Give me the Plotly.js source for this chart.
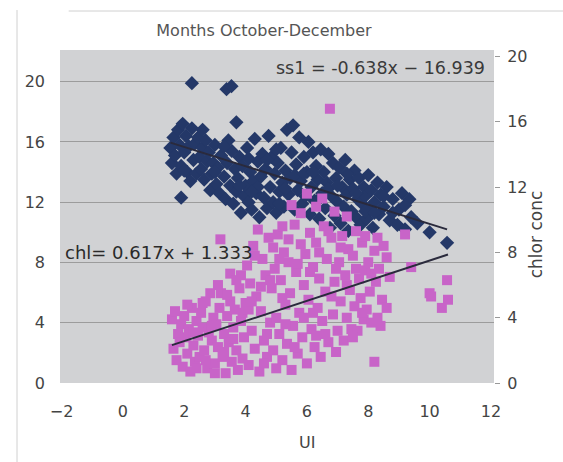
<!DOCTYPE html>
<html>
<head>
<meta charset="utf-8">
<script src="https://cdn.plot.ly/plotly-3.0.1.min.js"></script>
<style>html,body{margin:0;padding:0;background:#fff;}#chart{width:563px;height:462px;}</style>
</head>
<body>
<div id="chart"></div>
<script>
// ss1 series (left axis)
const ssX = [1.55,1.6,1.65,1.7,1.75,1.8,1.85,1.9,1.95,2.0,2.05,2.1,2.15,2.2,2.25,2.3,2.35,2.4,2.45,2.5,1.9,2.85,2.25,3.38,3.54,3.7,3.44,
  2.55,2.6,2.65,2.7,2.75,2.8,2.9,2.95,3.0,3.05,3.1,3.15,3.2,3.3,3.35,3.4,3.5,3.55,
  3.6,3.65,3.7,3.75,3.8,3.85,3.9,3.95,4.0,4.05,4.1,4.15,4.2,4.25,4.3,4.35,4.4,4.45,4.5,
  4.55,4.6,4.65,4.7,4.75,4.8,4.85,4.9,4.95,5.0,5.05,5.1,5.15,5.2,5.25,5.3,5.35,5.4,5.45,5.5,
  5.55,5.6,5.65,5.7,5.75,5.8,5.85,5.9,5.95,6.0,6.05,6.1,6.15,6.2,6.25,6.3,6.35,6.4,6.45,6.5,
  6.55,6.6,6.65,6.7,6.75,6.8,6.85,6.9,6.95,7.0,7.05,7.1,7.15,7.2,7.25,7.3,7.35,7.4,7.45,
  7.5,7.55,7.6,7.65,7.7,7.75,7.8,7.85,7.9,7.95,8.0,8.05,8.1,8.15,8.2,8.3,8.35,8.4,
  8.5,8.6,8.7,8.8,8.95,9.0,9.1,9.34,9.4,9.6,10.0,10.57,9.2,
  2.0,2.6,3.0,3.3,3.8,4.1,4.4,4.7,5.0,5.3,5.6,5.9,6.2,6.4,6.7,7.0,7.3,7.6,7.9,8.2,8.5,8.8,9.2,4.2,5.1];
const ssY = [15.6,14.6,16.3,15.1,13.9,16.8,15.8,14.4,17.2,15.3,16.4,14.0,15.7,13.4,19.9,14.8,15.9,13.9,16.3,15.0,12.3,12.8,16.9,19.5,19.7,17.3,16.1,
  14.2,15.6,13.5,16.1,14.7,15.3,13.9,14.6,15.8,13.2,14.3,12.6,15.1,13.7,12.2,14.6,13.1,15.4,
  11.9,14.2,12.7,13.6,15.0,11.3,14.4,12.4,13.1,15.6,12.0,14.0,11.5,13.4,16.2,12.6,14.7,11.0,13.7,
  15.2,12.3,14.2,11.6,16.4,13.0,15.0,12.0,13.9,11.3,14.6,12.7,15.6,13.3,11.7,14.1,16.8,12.5,13.6,15.3,
  17.1,11.5,14.5,12.8,16.3,13.4,11.9,15.0,12.4,14.0,16.0,11.2,13.0,15.3,12.1,14.4,13.5,10.9,15.5,12.6,
  14.0,11.6,13.3,15.2,10.3,12.4,14.6,11.1,13.6,12.0,14.3,10.6,13.0,11.7,14.8,12.5,10.1,13.5,11.4,
  12.9,14.1,11.0,12.2,13.6,10.5,11.9,13.0,12.4,10.9,13.8,11.5,12.8,10.3,12.0,13.3,11.2,12.5,
  11.7,13.0,10.8,12.2,10.5,11.5,12.6,12.2,11.0,10.6,10.0,9.3,10.2,
  14.1,16.8,14.0,15.7,13.1,14.9,13.0,14.8,15.5,12.9,13.8,13.9,14.0,12.2,12.9,13.1,13.9,12.6,11.4,11.3,12.4,11.3,11.8,12.7,11.9];

// chl series (right axis)
const chlX = [1.6,1.65,1.7,1.75,1.8,1.85,1.9,1.95,2.0,2.05,2.1,2.15,2.2,2.25,2.3,2.35,2.4,2.45,2.5,2.55,2.6,2.65,2.7,2.75,2.8,2.85,2.9,2.95,3.0,3.0,
  3.05,3.1,3.15,3.18,3.2,3.25,3.3,3.35,3.4,3.45,3.5,3.5,3.55,3.6,3.65,3.7,3.75,3.8,3.85,3.9,3.95,4.0,
  4.05,4.1,4.15,4.2,4.25,4.3,4.35,4.4,4.45,4.5,4.55,4.6,4.65,4.7,4.75,4.8,4.85,4.9,4.95,5.0,5.0,
  5.05,5.1,5.15,5.2,5.25,5.3,5.35,5.4,5.45,5.5,5.5,5.55,5.6,5.65,5.7,5.75,5.8,5.8,5.85,5.9,5.95,6.0,6.0,
  6.05,6.1,6.15,6.2,6.25,6.3,6.3,6.35,6.4,6.45,6.5,6.5,6.55,6.6,6.65,6.7,6.75,6.8,6.85,6.9,6.9,6.95,7.0,
  7.05,7.1,7.15,7.2,7.25,7.3,7.3,7.35,7.4,7.45,7.5,7.55,7.6,7.65,7.7,7.75,7.8,7.85,7.9,7.95,
  8.0,8.05,8.1,8.2,8.2,8.25,8.3,8.35,8.45,8.5,8.6,8.7,
  9.2,9.4,10.0,10.05,10.4,10.57,10.6,
  2.1,2.4,2.6,2.9,2.7,2.3,3.1,3.4,3.7,3.3,3.9,3.6,3.85,
  4.1,4.3,4.5,4.6,4.7,4.9,4.2,4.8,5.1,5.2,5.3,5.4,5.6,5.7,5.9,5.2,
  6.1,6.2,6.4,6.6,6.7,6.8,6.95,6.3,7.1,7.3,7.5,7.6,7.8,7.9,8.1,8.4,8.6,8.3];
const chlY = [3.9,2.1,4.4,1.4,3.0,2.5,3.6,1.0,4.1,2.8,1.8,3.3,0.7,4.6,2.3,1.3,3.8,2.9,1.6,4.3,3.4,2.0,5.0,0.9,3.1,5.5,2.6,4.0,1.2,0.6,
  3.6,2.2,4.6,8.8,5.5,1.6,3.0,0.6,4.1,2.5,6.7,5.0,1.3,3.4,4.5,2.0,0.8,5.8,3.8,1.5,2.8,4.9,
  7.2,1.1,6.1,3.2,8.4,2.1,5.3,9.4,0.7,4.4,7.6,2.6,6.6,1.6,8.9,3.7,5.8,2.0,7.0,4.0,0.9,
  9.1,3.0,6.3,1.4,8.0,4.8,2.4,7.4,5.5,0.8,10.9,3.5,9.7,6.8,1.8,4.3,8.5,10.4,2.8,6.0,7.9,1.2,11.6,
  5.1,9.2,3.3,7.1,2.2,10.8,8.6,4.6,6.4,1.6,11.3,3.8,9.6,5.6,7.6,2.5,16.8,8.9,4.2,10.5,6.2,1.9,3.2,
  7.4,5.0,9.0,2.6,6.6,10.2,4.0,8.2,5.7,3.3,7.8,4.7,9.3,3.2,6.4,5.2,8.6,3.9,6.9,4.5,
  7.4,5.6,3.7,8.1,1.3,6.2,4.0,7.0,5.1,8.4,4.6,6.5,
  9.1,7.1,5.5,5.3,4.6,6.3,5.1,
  4.8,0.9,4.9,3.5,1.4,3.1,6.0,5.4,6.3,1.9,4.3,2.7,6.6,
  4.5,7.8,5.9,1.2,3.0,8.3,5.0,6.3,7.6,5.2,3.6,8.8,2.2,7.3,4.0,9.6,
  6.8,4.3,8.0,3.0,9.3,5.3,7.0,2.9,8.3,6.0,2.8,7.0,4.3,9.0,6.7,3.5,7.7,8.9];

// trendline coefficients [slope, intercept]
const ssFit = [-0.638, 16.939];
const chlFit = [0.617, 1.333];
const xTicks = [-2, 0, 2, 4, 6, 8, 10, 12];
const yTicks = [0, 4, 8, 12, 16, 20];

const ssLineX = [Math.min(...ssX), Math.max(...ssX)];
const chlLineX = [Math.min(...chlX), Math.max(...chlX)];

const font = 'DejaVu Sans, Arial, sans-serif';
const traces = [
  {x: ssX, y: ssY, type: 'scatter', mode: 'markers', name: 'ss1',
   marker: {symbol: 'diamond', size: 11, color: '#243868', line: {width: 0}}},
  {x: chlX, y: chlY, type: 'scatter', mode: 'markers', name: 'chl', yaxis: 'y2',
   marker: {symbol: 'square', size: 10, color: '#c864c8', line: {width: 0}}},
  {x: ssLineX, y: ssLineX.map(v => ssFit[0]*v + ssFit[1]), type: 'scatter', mode: 'lines',
   line: {color: '#2a2a3c', width: 2}, hoverinfo: 'skip'},
  {x: chlLineX, y: chlLineX.map(v => chlFit[0]*v + chlFit[1]), type: 'scatter', mode: 'lines', yaxis: 'y2',
   line: {color: '#2a2a3c', width: 2}, hoverinfo: 'skip'}
];

const layout = {
  width: 563, height: 462,
  margin: {l: 60, r: 69, t: 50, b: 79},
  paper_bgcolor: '#ffffff',
  plot_bgcolor: '#d1d2d4',
  showlegend: false,
  font: {family: font, size: 16, color: '#444'},
  title: {text: 'Months October-December', font: {family: font, size: 16, color: '#555'},
          xref: 'paper', x: 0.47, xanchor: 'center', yref: 'container', y: 0.935, yanchor: 'middle'},
  xaxis: {range: [-2.05, 12.1], tickvals: xTicks, ticks: '', showgrid: false, zeroline: false,
          showline: false, ticklabelstandoff: 17, tickfont: {size: 16, color: '#444'}},
  yaxis: {range: [0, 22.1], tickvals: yTicks, ticks: '', showgrid: true, gridcolor: '#9c9c9c', gridwidth: 1,
          zeroline: false, showline: false, ticklabelstandoff: 14, tickfont: {size: 16, color: '#444'}},
  yaxis2: {range: [0, 20.4], tickvals: yTicks, overlaying: 'y', side: 'right', showgrid: false, zeroline: false,
           ticks: 'outside', ticklen: 5, tickcolor: '#999', showline: false, ticklabelstandoff: 4,
           tickfont: {size: 16, color: '#444'}},
  annotations: [
    {text: 'ss1 = -0.638x − 16.939', xref: 'paper', yref: 'paper', x: 0.985, y: 0.946, xanchor: 'right', yanchor: 'middle',
     showarrow: false, font: {family: font, size: 17.5, color: '#3a3a3a'}},
    {text: 'chl= 0.617x + 1.333', xref: 'paper', yref: 'paper', x: 0.006, y: 0.393, xanchor: 'left', yanchor: 'middle',
     showarrow: false, font: {family: font, size: 18, color: '#2a2a2a'}},
    {text: 'UI', xref: 'paper', yref: 'paper', x: 0.569, y: -0.18, xanchor: 'center', yanchor: 'middle',
     showarrow: false, font: {family: font, size: 16, color: '#444'}},
    {text: 'chlor conc', xref: 'paper', yref: 'paper', x: 1.097, y: 0.447, xanchor: 'center', yanchor: 'middle',
     textangle: -90, showarrow: false, font: {family: font, size: 17, color: '#444'}}
  ],
  shapes: [
    {type: 'line', xref: 'paper', yref: 'paper', xsizemode: 'pixel', xanchor: 0, x0: -43, x1: -43, y0: -0.24, y1: 1.12,
     line: {color: '#d0d0d0', width: 1}},
    {type: 'line', xref: 'paper', yref: 'paper', ysizemode: 'pixel', yanchor: 0, y0: 372, y1: 372, x0: 0.02, x1: 1.16,
     line: {color: '#d0d0d0', width: 1}}
  ]
};

Plotly.newPlot('chart', traces, layout, {displayModeBar: false, staticPlot: true});
</script>
</body>
</html>
